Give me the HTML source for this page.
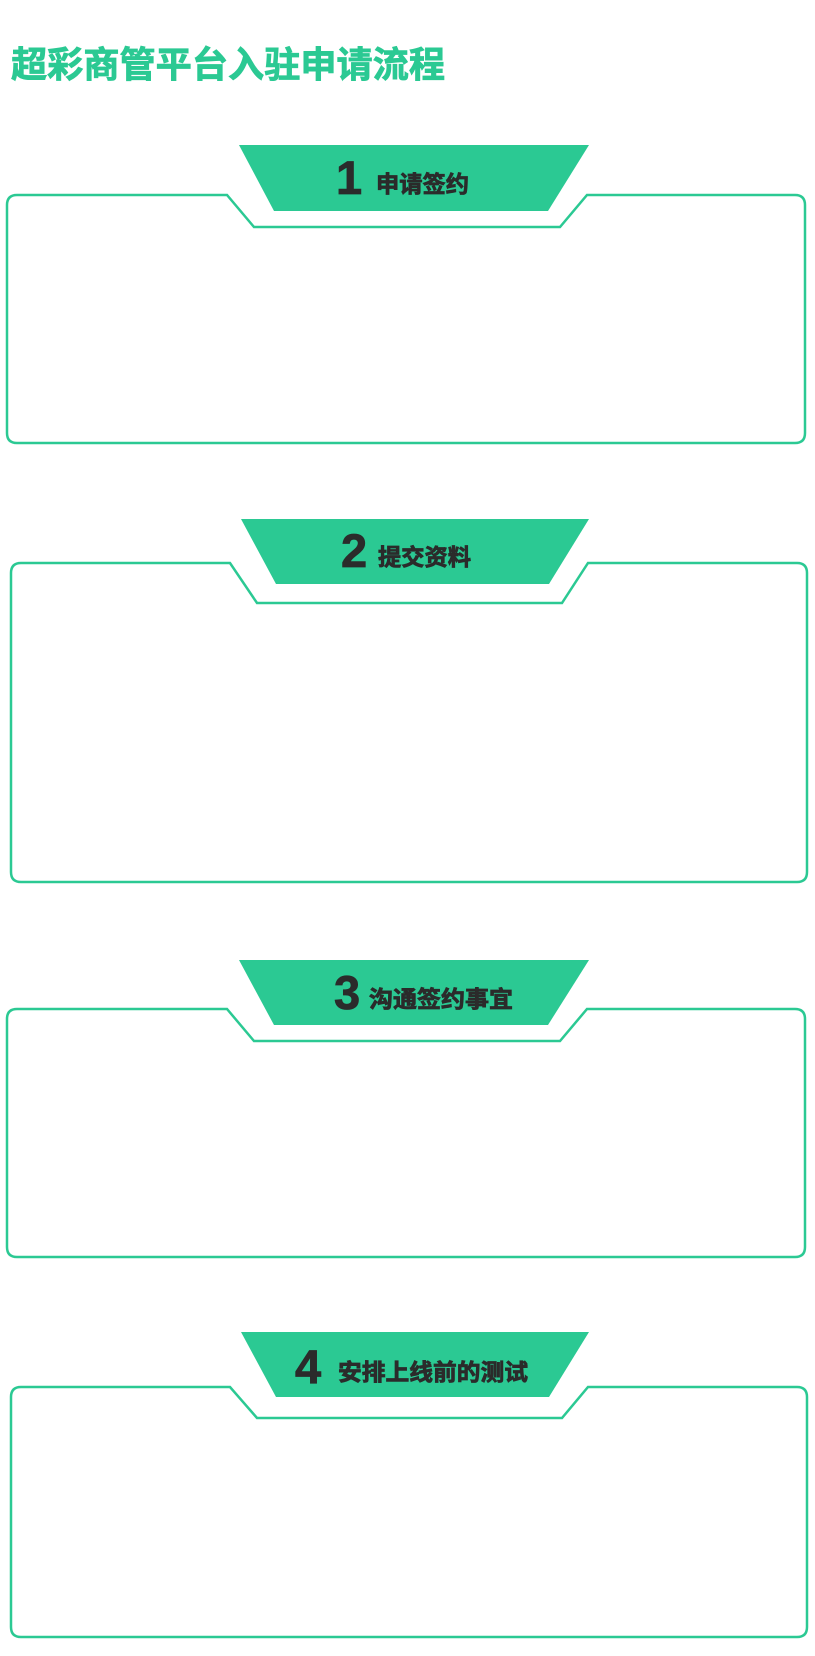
<!DOCTYPE html>
<html><head><meta charset="utf-8"><style>
html,body{margin:0;padding:0;background:#fff;width:815px;height:1656px;overflow:hidden}
svg{display:block}
.t{font-family:"Liberation Sans","Noto Sans CJK SC",sans-serif;font-weight:bold}
</style></head><body>
<svg width="815" height="1656" viewBox="0 0 815 1656" xmlns="http://www.w3.org/2000/svg">
<text x="11" y="77" class="t" font-size="36" fill="#2bc993" stroke="#2bc993" stroke-width="0.8" textLength="434" lengthAdjust="spacingAndGlyphs">超彩商管平台入驻申请流程</text>
<g fill="none" stroke="#2bc993" stroke-width="2.5">
<path d="M227,195 H17 Q7,195 7,205 V433 Q7,443 17,443 H795 Q805,443 805,433 V205 Q805,195 795,195 H587 L560,227 H254 Z"/>
<path d="M230,563 H21 Q11,563 11,573 V872 Q11,882 21,882 H797 Q807,882 807,872 V573 Q807,563 797,563 H588 L562,603 H257 Z"/>
<path d="M227,1009 H17 Q7,1009 7,1019 V1247 Q7,1257 17,1257 H795 Q805,1257 805,1247 V1019 Q805,1009 795,1009 H587 L560,1041 H254 Z"/>
<path d="M230,1387 H21 Q11,1387 11,1397 V1627 Q11,1637 21,1637 H797 Q807,1637 807,1627 V1397 Q807,1387 797,1387 H588 L562,1418 H257 Z"/>
</g>
<g fill="#2bc993">
<polygon points="239,145 589,145 548,211 274,211"/>
<polygon points="241,519 589,519 549,584 276,584"/>
<polygon points="239,960 589,960 548,1025 274,1025"/>
<polygon points="241,1332 589,1332 549,1397 276,1397"/>
</g>
<g class="t" fill="#2b2b2b" stroke="#2b2b2b" stroke-width="0.8">
<text x="336" y="194" font-size="47">1</text>
<text x="376" y="192" font-size="23" textLength="93" lengthAdjust="spacingAndGlyphs">申请签约</text>
<text x="341" y="567" font-size="47">2</text>
<text x="378" y="565" font-size="23" textLength="93" lengthAdjust="spacingAndGlyphs">提交资料</text>
<text x="334" y="1009" font-size="47">3</text>
<text x="369" y="1007" font-size="23" textLength="144" lengthAdjust="spacingAndGlyphs">沟通签约事宜</text>
<text x="295" y="1383" font-size="47">4</text>
<text x="338" y="1380" font-size="23" textLength="190" lengthAdjust="spacingAndGlyphs">安排上线前的测试</text>
</g>
</svg>
</body></html>
